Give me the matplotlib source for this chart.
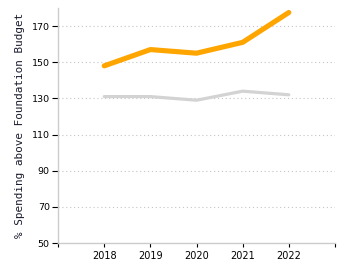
import matplotlib
matplotlib.use("Agg")
import matplotlib.pyplot as plt

# Data
years = [2018, 2019, 2020, 2021, 2022]
district = [148, 157, 155, 161, 177.5]
state = [131, 131, 129, 134, 132]
y_ticks = [50, 70, 90, 110, 130, 150, 170]
x_ticks = [2017, 2018, 2019, 2020, 2021, 2022, 2023]
x_tick_labels = ["", "2018", "2019", "2020", "2021", "2022", ""]

fig = plt.figure(figsize=(3.5, 2.75), dpi=100)
ax = fig.add_axes([0.166, 0.116, 0.791, 0.855])

ax.plot(years, state, color="#d3d3d3", linewidth=2.3, solid_capstyle="round", zorder=2)
ax.plot(years, district, color="#ffa500", linewidth=3.7, solid_capstyle="round",
        solid_joinstyle="round", zorder=3)

ax.set_xlim(2017, 2023)
ax.set_ylim(50, 180)
ax.set_yticks(y_ticks)
ax.set_xticks(x_ticks)
ax.set_xticklabels(x_tick_labels)

# dotted horizontal gridlines
ax.grid(axis="y", color="#c4c4c4", linestyle=(0, (1, 2.5)), linewidth=0.8)
ax.set_axisbelow(True)

for side in ["top", "right"]:
    ax.spines[side].set_visible(False)
for side in ["left", "bottom"]:
    ax.spines[side].set_color("#cccccc")
    ax.spines[side].set_linewidth(1)

ax.tick_params(axis="y", length=4, width=0.8, color="black", labelsize=6.8, pad=2)
ax.tick_params(axis="x", length=3, width=0.8, color="black", labelsize=7, pad=3)

ax.set_ylabel("% Spending above Foundation Budget", family="DejaVu Sans Mono",
              fontsize=7.9, color="#1a1a2e", labelpad=5)

fig.savefig("out.png", dpi=100)
